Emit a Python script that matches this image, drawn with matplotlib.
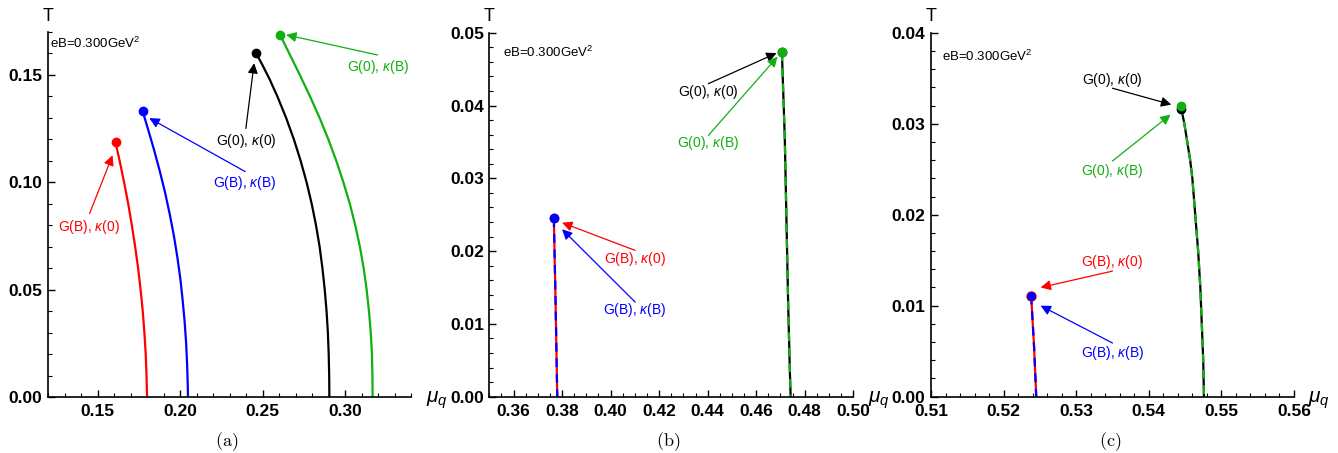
import matplotlib.pyplot as plt
from matplotlib.ticker import MultipleLocator, FormatStrFormatter

# Font setup (Arial-like sans, italic greek in math)
plt.rcParams['font.family'] = ['Liberation Sans', 'DejaVu Sans']
plt.rcParams['mathtext.fontset'] = 'custom'
plt.rcParams['mathtext.rm'] = 'Liberation Sans'
plt.rcParams['mathtext.it'] = 'Liberation Sans:italic'

RED = '#ff0000'
BLUE = '#0000ff'
BLACK = '#000000'
GREEN = '#10b010'

# ---- panel (a): critical lines, mu_q vs T ----
a_mu_red = [0.1609, 0.1634, 0.1661, 0.1686, 0.1708, 0.1728, 0.1746, 0.1761, 0.1774,
            0.1784, 0.1792, 0.1797, 0.1800]
a_T_red = [0.1186, 0.110, 0.100, 0.090, 0.080, 0.070, 0.060, 0.050, 0.040,
           0.030, 0.020, 0.010, 0.0]
a_mu_blue = [0.1774, 0.1805, 0.1843, 0.1878, 0.1910, 0.1938, 0.1963, 0.1984, 0.2002,
             0.2016, 0.2028, 0.2037, 0.2043, 0.2047, 0.2048]
a_T_blue = [0.1330, 0.125, 0.115, 0.105, 0.095, 0.085, 0.075, 0.065, 0.055,
            0.045, 0.035, 0.025, 0.015, 0.005, 0.0]
a_mu_black = [0.2460, 0.2497, 0.2543, 0.2590, 0.2643, 0.2690, 0.2731, 0.2767, 0.2798,
              0.2824, 0.2846, 0.2863, 0.2877, 0.2888, 0.2896, 0.2901, 0.2904, 0.2905]
a_T_black = [0.1603, 0.155, 0.148, 0.140, 0.130, 0.120, 0.110, 0.100, 0.090,
             0.080, 0.070, 0.060, 0.050, 0.040, 0.030, 0.020, 0.010, 0.0]
a_mu_green = [0.2606, 0.2662, 0.2726, 0.2788, 0.2846, 0.2899, 0.2947, 0.2990, 0.3029,
              0.3062, 0.3090, 0.3113, 0.3131, 0.3145, 0.3156, 0.3163, 0.3166, 0.3167]
a_T_green = [0.1688, 0.160, 0.150, 0.140, 0.130, 0.120, 0.110, 0.100, 0.090,
             0.080, 0.070, 0.060, 0.050, 0.040, 0.030, 0.020, 0.010, 0.0]

# ---- panel (b) ----
b_mu_low = [0.3766, 0.3773, 0.3780]          # G(B),k(0) and G(B),k(B) coincide
b_T_low = [0.0245, 0.0133, 0.0]
b_mu_high = [0.4706, 0.4718, 0.4725, 0.4732, 0.4739, 0.4742]   # G(0),k(0) and G(0),k(B)
b_T_high = [0.0473, 0.0353, 0.0238, 0.0124, 0.0032, 0.0]

# ---- panel (c) ----
c_mu_low = [0.5238, 0.5242, 0.5245]
c_T_low = [0.0111, 0.0055, 0.0]
c_mu_black = [0.5445, 0.5449, 0.5453, 0.5457, 0.5460, 0.5462, 0.5464, 0.5468, 0.5471,
              0.5473, 0.5475, 0.5476]
c_T_black = [0.0316, 0.030, 0.028, 0.026, 0.024, 0.022, 0.020, 0.016, 0.012,
             0.008, 0.004, 0.0]
c_mu_green = [0.5444, 0.5449, 0.5453, 0.5457, 0.5460, 0.5462, 0.5464, 0.5468, 0.5471,
              0.5473, 0.5475, 0.5476]
c_T_green = [0.0319, 0.030, 0.028, 0.026, 0.024, 0.022, 0.020, 0.016, 0.012,
             0.008, 0.004, 0.0]

labels = {
    'red': r'G(B), $\kappa$(0)',
    'blue': r'G(B), $\kappa$(B)',
    'black': r'G(0), $\kappa$(0)',
    'green': r'G(0), $\kappa$(B)',
}
colors = {'red': RED, 'blue': BLUE, 'black': BLACK, 'green': GREEN}

# (text centre, arrow tail, arrow head) in data coords
a_notes = {
    'red': ((0.1446, 0.0794), (0.1452, 0.0855), (0.1591, 0.1126)),
    'blue': ((0.2395, 0.0999), (0.2395, 0.1050), (0.1814, 0.1299)),
    'black': ((0.2399, 0.1193), (0.2399, 0.1251), (0.2449, 0.1555)),
    'green': ((0.3197, 0.1536), (0.3197, 0.1593), (0.2643, 0.1687)),
}
b_notes = {
    'black': ((0.4401, 0.0418), (0.4403, 0.0430), (0.4684, 0.0472)),
    'green': ((0.4401, 0.0348), (0.4403, 0.0359), (0.4688, 0.0467)),
    'red': ((0.4101, 0.0189), (0.4101, 0.0201), (0.3800, 0.0239)),
    'blue': ((0.4101, 0.0119), (0.4101, 0.0130), (0.3800, 0.0230)),
}
c_notes = {
    'black': ((0.5350, 0.0348), (0.5350, 0.0339), (0.5431, 0.0321)),
    'green': ((0.5350, 0.0248), (0.5350, 0.0259), (0.5430, 0.0310)),
    'red': ((0.5350, 0.0148), (0.5350, 0.0138), (0.5251, 0.0120)),
    'blue': ((0.5350, 0.0048), (0.5350, 0.0059), (0.5251, 0.0100)),
}


def style_axes(ax, xlim, ylim, xmaj, xmin, ymaj, ymin, eb_pos):
    """Mathematica-like axes: only left/bottom lines, inward ticks."""
    ax.set_xlim(*xlim)
    ax.set_ylim(*ylim)
    for s in ['top', 'right']:
        ax.spines[s].set_visible(False)
    for s in ['left', 'bottom']:
        ax.spines[s].set_linewidth(1.2)
    ax.xaxis.set_major_locator(MultipleLocator(xmaj))
    ax.xaxis.set_minor_locator(MultipleLocator(xmin))
    ax.yaxis.set_major_locator(MultipleLocator(ymaj))
    ax.yaxis.set_minor_locator(MultipleLocator(ymin))
    ax.xaxis.set_major_formatter(FormatStrFormatter('%.2f'))
    ax.yaxis.set_major_formatter(FormatStrFormatter('%.2f'))
    ax.tick_params(which='major', direction='in', length=5, width=1.0, pad=5,
                   labelsize=12.5)
    ax.tick_params(which='minor', direction='in', length=3, width=0.8)
    ax.tick_params(axis='y', pad=4)
    for lab in ax.get_xticklabels() + ax.get_yticklabels():
        lab.set_fontweight('bold')
    ax.text(0.0, 1.02, 'T', transform=ax.transAxes, ha='center', va='bottom',
            fontsize=13)
    ax.text(1.04, -0.01, r'$\mu_q$', transform=ax.transAxes, ha='left', va='center',
            fontsize=15)
    ax.text(eb_pos[0], eb_pos[1], r'eB=0.300GeV$^2$', transform=ax.transAxes,
            ha='left', va='center', fontsize=9.5)


def add_notes(ax, notes):
    for key, (txt, tail, head) in notes.items():
        c = colors[key]
        ax.annotate('', xy=head, xytext=tail,
                    arrowprops=dict(arrowstyle='-|>', color=c, lw=0.9,
                                    mutation_scale=15, shrinkA=0, shrinkB=0))
        ax.text(txt[0], txt[1], labels[key], color=c, ha='center', va='center',
                fontsize=10)


fig = plt.figure(figsize=(13.38, 4.53), dpi=100)

# (a)
ax1 = fig.add_axes([0.0359, 0.1236, 0.2713, 0.8057])
for mu, T, c in [(a_mu_red, a_T_red, RED), (a_mu_blue, a_T_blue, BLUE),
                 (a_mu_black, a_T_black, BLACK), (a_mu_green, a_T_green, GREEN)]:
    ax1.plot(mu, T, color=c, lw=1.6)
    ax1.plot(mu[0], T[0], 'o', color=c, ms=6, clip_on=False)
style_axes(ax1, (0.12, 0.34), (0.0, 0.17), 0.05, 0.01, 0.05, 0.01, (0.006, 0.97))
add_notes(ax1, a_notes)

# (b)
ax2 = fig.add_axes([0.3657, 0.1243, 0.2720, 0.8035])
ax2.plot(b_mu_low, b_T_low, color=RED, lw=1.6)
ax2.plot(b_mu_low, b_T_low, color=BLUE, lw=1.6, ls=(0, (4, 3)))
ax2.plot(b_mu_high, b_T_high, color=BLACK, lw=1.6)
ax2.plot(b_mu_high, b_T_high, color=GREEN, lw=1.6, ls=(0, (4, 3)))
ax2.plot(b_mu_low[0], b_T_low[0], 'o', color=RED, ms=6)
ax2.plot(b_mu_low[0], b_T_low[0], 'o', color=BLUE, ms=6)
ax2.plot(b_mu_high[0], b_T_high[0], 'o', color=BLACK, ms=6)
ax2.plot(b_mu_high[0], b_T_high[0], 'o', color=GREEN, ms=6)
style_axes(ax2, (0.35, 0.50), (0.0, 0.05), 0.02, 0.005, 0.01, 0.002, (0.037, 0.946))
add_notes(ax2, b_notes)

# (c)
ax3 = fig.add_axes([0.6958, 0.1243, 0.2713, 0.8035])
ax3.plot(c_mu_low, c_T_low, color=RED, lw=1.6)
ax3.plot(c_mu_low, c_T_low, color=BLUE, lw=1.6, ls=(0, (4, 3)))
ax3.plot(c_mu_black, c_T_black, color=BLACK, lw=1.6)
ax3.plot(c_mu_green, c_T_green, color=GREEN, lw=1.6, ls=(0, (4, 3)))
ax3.plot(c_mu_low[0], c_T_low[0], 'o', color=RED, ms=6.5)
ax3.plot(c_mu_low[0], c_T_low[0], 'o', color=BLUE, ms=5.5)
ax3.plot(c_mu_black[0], c_T_black[0], 'o', color=BLACK, ms=6)
ax3.plot(c_mu_green[0], c_T_green[0], 'o', color=GREEN, ms=6)
style_axes(ax3, (0.51, 0.56), (0.0, 0.04), 0.01, 0.002, 0.01, 0.002, (0.031, 0.936))
add_notes(ax3, c_notes)

# sub-figure captions
for x, cap in [(0.1697, '(a)'), (0.4993, '(b)'), (0.8296, '(c)')]:
    fig.text(x, 0.024, r'$\mathrm{' + cap + '}$', ha='center', va='center',
             fontsize=13, math_fontfamily='cm')

fig.savefig('out.png', dpi=100)
